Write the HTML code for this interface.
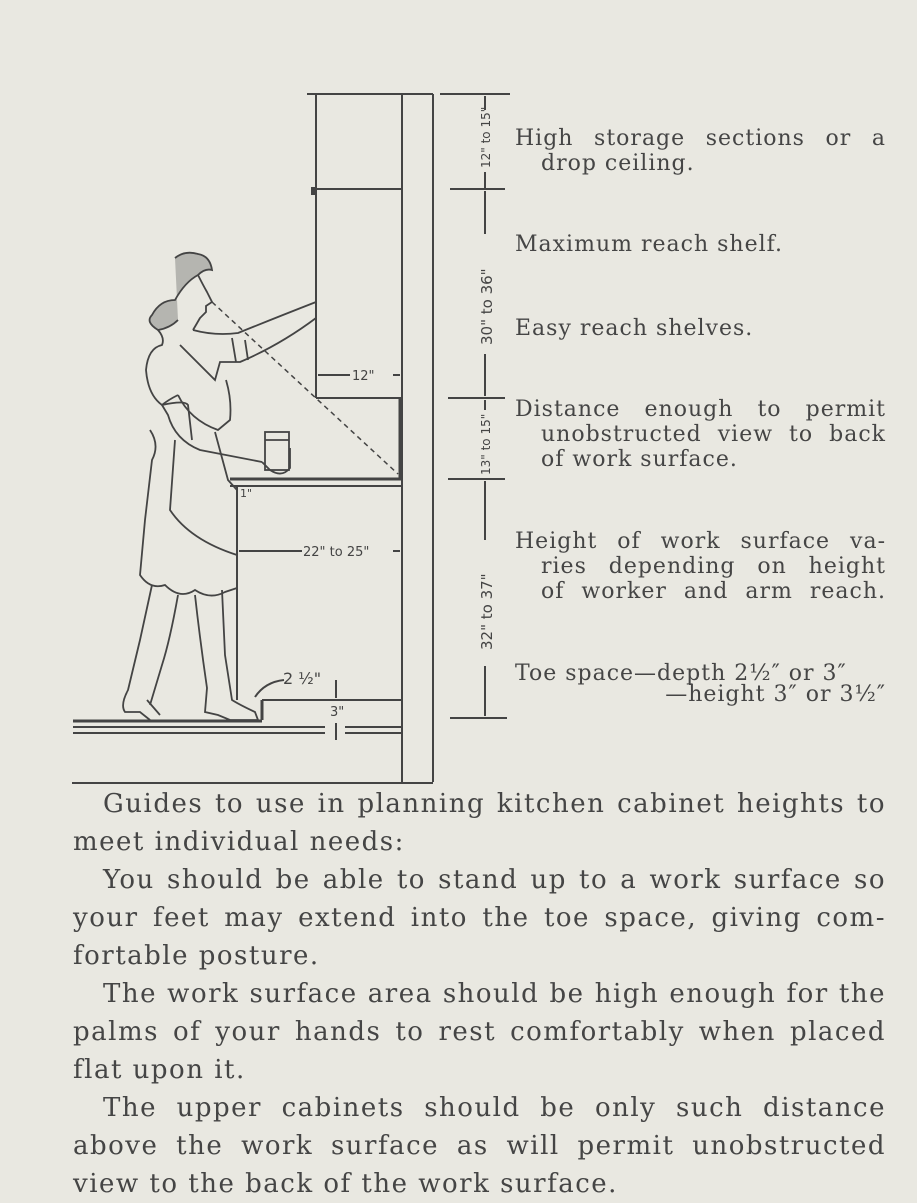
<!DOCTYPE html>
<html><head><meta charset="utf-8"><style>
html,body{margin:0;padding:0}
body{width:917px;height:1200px;background:#e9e8e1;position:relative;overflow:hidden;font-family:"DejaVu Serif","Liberation Serif",serif;color:#454545}
.t{position:absolute;font-size:22px;letter-spacing:1px;white-space:nowrap;line-height:25px}
.j{text-align:justify;text-align-last:justify;white-space:normal}
.b{position:absolute;font-size:26px;letter-spacing:1.5px;line-height:38px;left:73px;width:813px;white-space:nowrap}
svg{position:absolute;left:0;top:0}
</style></head><body>
<svg width="917" height="1200" viewBox="0 0 917 1200">
<g stroke="#444" fill="none" stroke-width="2">
<line x1="307" y1="94" x2="433" y2="94"/>
<line x1="316" y1="94" x2="316" y2="398"/>
<line x1="402" y1="94" x2="402" y2="782"/>
<line x1="433" y1="94" x2="433" y2="782"/>
<line x1="316" y1="189" x2="402" y2="189"/>
<rect x="312" y="188" width="4" height="6" fill="#444"/>
<line x1="316" y1="398" x2="402" y2="398"/>
<line x1="400" y1="398" x2="400" y2="478" stroke-width="3"/>
<line x1="230" y1="479" x2="402" y2="479" stroke-width="3"/>
<line x1="230" y1="486" x2="402" y2="486"/>
<line x1="237" y1="486" x2="237" y2="700"/>
<line x1="262" y1="700" x2="402" y2="700"/>
<line x1="262" y1="700" x2="262" y2="720" stroke-width="3"/>
<line x1="73" y1="721" x2="262" y2="721" stroke-width="3"/>
<line x1="73" y1="727" x2="325" y2="727"/><line x1="345" y1="727" x2="402" y2="727"/>
<line x1="73" y1="733" x2="325" y2="733"/><line x1="345" y1="733" x2="402" y2="733"/>
<line x1="72" y1="783" x2="433" y2="783"/>
<line x1="440" y1="94" x2="510" y2="94"/>
<line x1="485" y1="96" x2="485" y2="110"/><line x1="485" y1="172" x2="485" y2="188"/>
<line x1="450" y1="189" x2="505" y2="189"/>
<line x1="485" y1="191" x2="485" y2="234"/><line x1="485" y1="354" x2="485" y2="396"/>
<line x1="448" y1="398" x2="505" y2="398"/>
<line x1="485" y1="400" x2="485" y2="410"/>
<line x1="448" y1="479" x2="505" y2="479"/>
<line x1="485" y1="481" x2="485" y2="540"/><line x1="485" y1="666" x2="485" y2="716"/>
<line x1="450" y1="718" x2="507" y2="718"/>
<line x1="318" y1="375" x2="350" y2="375"/><line x1="393" y1="375" x2="400" y2="375"/>
<line x1="239" y1="551" x2="302" y2="551"/><line x1="393" y1="551" x2="400" y2="551"/>
<line x1="336" y1="680" x2="336" y2="698"/><line x1="336" y1="723" x2="336" y2="740"/>
<path d="M284 680 Q265 682 255 697"/>
<line x1="212" y1="302" x2="398" y2="474" stroke-dasharray="5 4" stroke-width="1.5"/>
<g stroke-width="1.8">
<path d="M175 258 Q185 250 198 254 Q210 256 212 270 Q205 268 198 275 Q185 282 175 300 Q160 300 152 315 Q145 322 158 330 Q170 328 178 320" fill="#555" fill-opacity=".35"/>
<path d="M198 275 Q203 285 207 292 L212 302 L206 306 L206 312 L200 318 Q196 325 193 330"/>
<path d="M158 330 Q165 338 162 345 Q148 348 146 370 Q148 395 162 405 Q168 400 178 395"/>
<path d="M193 330 Q215 336 238 333 Q275 318 316 302"/>
<path d="M180 345 L215 380 L220 362 L240 362 Q280 345 316 318"/>
<path d="M232 338 L236 362 M245 340 L248 360"/>
<path d="M162 405 L168 415 Q175 440 200 450 L262 462"/>
<path d="M162 405 Q185 400 188 405 L192 440"/>
<path d="M178 395 Q190 420 218 430 L230 420 Q232 400 226 380"/>
<path d="M262 462 L270 470 Q282 478 290 468 L290 448"/>
<rect x="265" y="432" width="24" height="38"/>
<line x1="265" y1="440" x2="289" y2="440"/>
<path d="M150 430 Q160 445 152 460 L145 520 L140 575 Q150 590 165 585 Q180 600 195 590 Q210 600 225 592 L237 588"/>
<path d="M175 440 L170 510 Q190 540 237 555"/>
<path d="M215 432 L228 480 L237 490"/>
<path d="M152 585 L140 640 L128 690 Q120 705 125 712 L140 712 L150 720 M147 700 L160 715"/>
<path d="M178 595 Q170 640 162 665 L150 705"/>
<path d="M195 595 Q200 640 207 688 L205 712 L218 715 L230 720 L258 720 L255 712 Q240 705 232 700 L225 655 L222 590"/>
</g>
</g>
<g fill="#444" stroke="none" font-family="'DejaVu Sans',sans-serif" font-size="13">
<text x="352" y="380">12"</text>
<text x="303" y="556">22" to 25"</text>
<text x="283" y="684" font-size="16">2 ½"</text>
<text x="330" y="716">3"</text>
<text x="240" y="497" font-size="11">1"</text>
<text transform="translate(490,168) rotate(-90)" font-size="12">12" to 15"</text>
<text transform="translate(492,345) rotate(-90)" font-size="15">30" to 36"</text>
<text transform="translate(490,475) rotate(-90)" font-size="12">13" to 15"</text>
<text transform="translate(492,650) rotate(-90)" font-size="15">32" to 37"</text>
</g>
</svg>
<div class="t j" style="left:515px;top:126px;width:371px">High storage sections or a</div>
<div class="t" style="left:541px;top:151px">drop ceiling.</div>
<div class="t" style="left:515px;top:232px">Maximum reach shelf.</div>
<div class="t" style="left:515px;top:316px">Easy reach shelves.</div>
<div class="t j" style="left:515px;top:397px;width:371px">Distance enough to permit</div>
<div class="t j" style="left:541px;top:422px;width:345px">unobstructed view to back</div>
<div class="t" style="left:541px;top:447px">of work surface.</div>
<div class="t j" style="left:515px;top:529px;width:371px">Height of work surface va-</div>
<div class="t j" style="left:541px;top:554px;width:345px">ries depending on height</div>
<div class="t j" style="left:541px;top:579px;width:345px">of worker and arm reach.</div>
<div class="t" style="left:515px;top:661px">Toe space—depth 2½″ or 3″</div>
<div class="t" style="left:515px;top:682px;width:371px;text-align:right">—height 3″ or 3½″</div>
<div class="b j" style="top:785px;left:103px;width:783px">Guides to use in planning kitchen cabinet heights to</div>
<div class="b" style="top:823px">meet individual needs:</div>
<div class="b j" style="top:861px;left:103px;width:783px">You should be able to stand up to a work surface so</div>
<div class="b j" style="top:899px">your feet may extend into the toe space, giving com-</div>
<div class="b" style="top:937px">fortable posture.</div>
<div class="b j" style="top:975px;left:103px;width:783px">The work surface area should be high enough for the</div>
<div class="b j" style="top:1013px">palms of your hands to rest comfortably when placed</div>
<div class="b" style="top:1051px">flat upon it.</div>
<div class="b j" style="top:1089px;left:103px;width:783px">The upper cabinets should be only such distance</div>
<div class="b j" style="top:1127px">above the work surface as will permit unobstructed</div>
<div class="b" style="top:1165px">view to the back of the work surface.</div>
</body></html>
